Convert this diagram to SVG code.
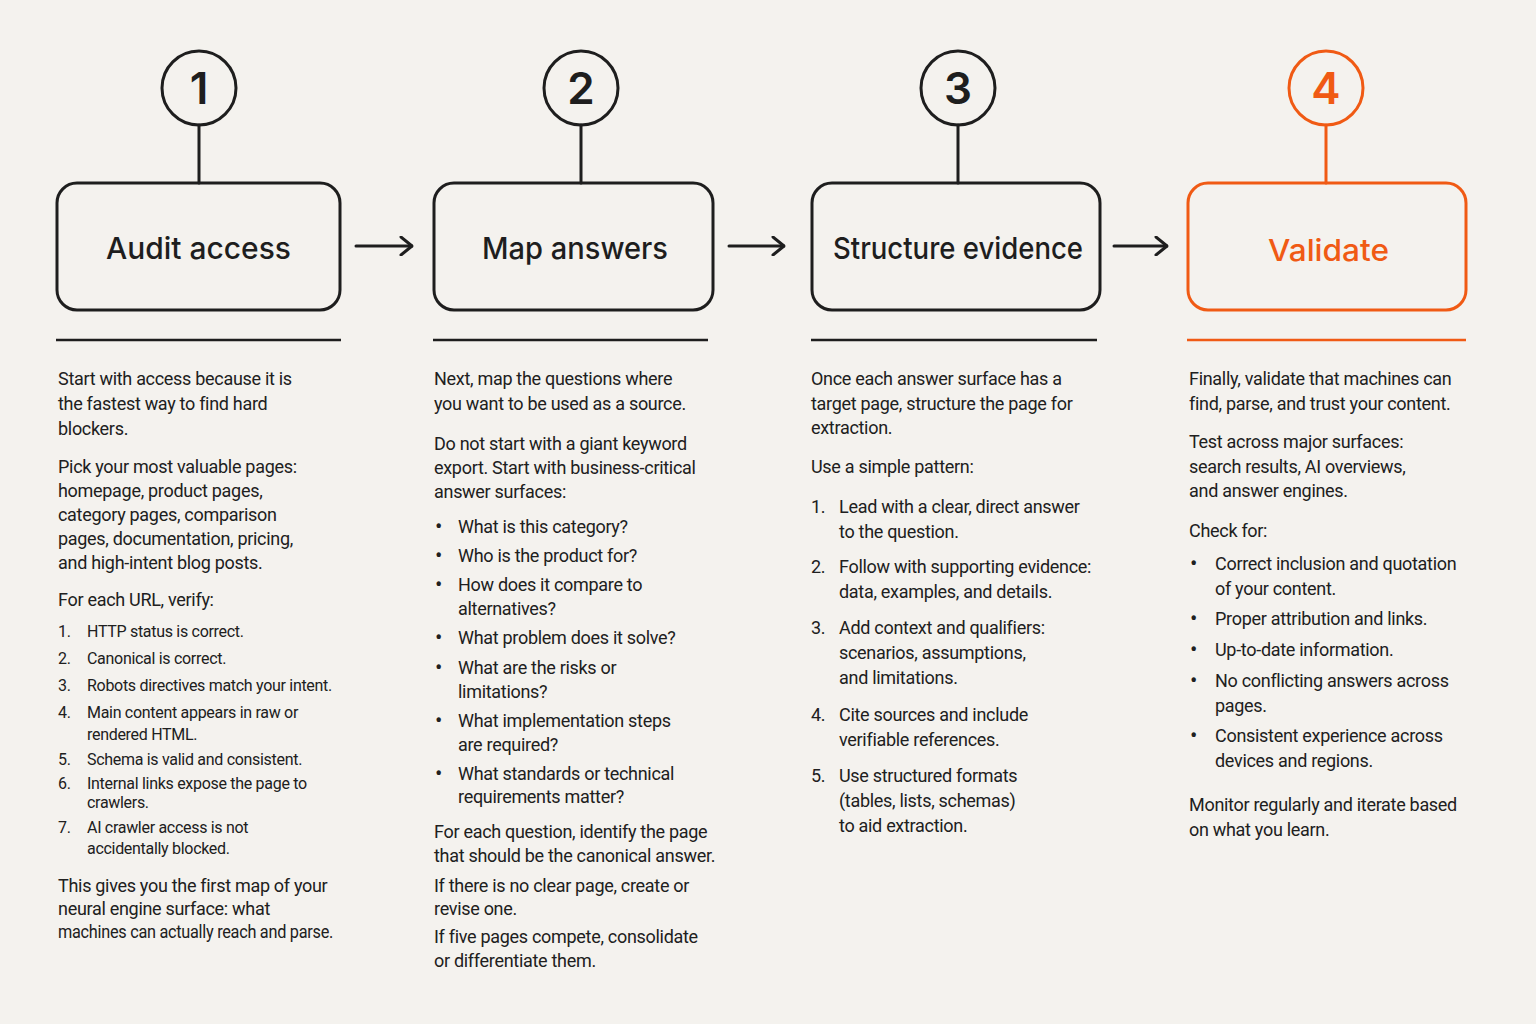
<svg xmlns="http://www.w3.org/2000/svg" width="1536" height="1024" viewBox="0 0 1536 1024">
<defs>
<style>
.bg{fill:#f4f2ee}
.ln{fill:none;stroke:#1e1e1e;stroke-width:3;stroke-linecap:round;stroke-linejoin:round}
.or{fill:none;stroke:#f05a14;stroke-width:3;stroke-linecap:round;stroke-linejoin:round}
.num{font-family:Inter,"Liberation Sans",sans-serif;font-size:44px;font-weight:600;text-anchor:middle;fill:#1e1e1e}
.ttl{font-family:Inter,"Liberation Sans",sans-serif;font-size:30px;font-weight:500;text-anchor:middle;fill:#1e1e1e}
.o{fill:#f05a14}
.t{font-family:Roboto,"Liberation Sans",sans-serif;font-size:18px;fill:#202020;letter-spacing:-0.3px}
.s{font-family:Roboto,"Liberation Sans",sans-serif;font-size:16px;fill:#202020;letter-spacing:-0.3px}
.b{font-size:22px}
.rule{stroke:#1e1e1e;stroke-width:2.5}
</style>
<marker id="ah" viewBox="0 0 14 20" refX="13" refY="10" markerWidth="14" markerHeight="20" markerUnits="userSpaceOnUse" orient="auto">
<path d="M2 1 L13 10 L2 19" fill="none" stroke="#1e1e1e" stroke-width="3" stroke-linecap="round" stroke-linejoin="round"/>
</marker>
</defs>
<rect class="bg" x="0" y="0" width="1536" height="1024"/>

<g id="connectors">
<line class="ln" x1="199" y1="125" x2="199" y2="183"/>
<line class="ln" x1="581" y1="125" x2="581" y2="183"/>
<line class="ln" x1="958" y1="125" x2="958" y2="183"/>
<line class="or" x1="1326" y1="125" x2="1326" y2="183"/>
<line class="ln" x1="356" y1="246" x2="412" y2="246" marker-end="url(#ah)"/>
<line class="ln" x1="729" y1="246" x2="784" y2="246" marker-end="url(#ah)"/>
<line class="ln" x1="1114" y1="246" x2="1167" y2="246" marker-end="url(#ah)"/>
</g>

<g id="step1">
<circle class="ln" cx="199" cy="88" r="37"/>
<text class="num" x="199" y="104">1</text>
<rect class="ln" x="57" y="183" width="283" height="127" rx="20"/>
<text class="ttl" x="198.5" y="259" textLength="185" lengthAdjust="spacingAndGlyphs">Audit access</text>
<line class="rule" x1="56" y1="340" x2="341" y2="340"/>
<text class="t">
<tspan x="58" y="385">Start with access because it is</tspan>
<tspan x="58" y="410">the fastest way to find hard</tspan>
<tspan x="58" y="435">blockers.</tspan>
<tspan x="58" y="473">Pick your most valuable pages:</tspan>
<tspan x="58" y="497">homepage, product pages,</tspan>
<tspan x="58" y="521">category pages, comparison</tspan>
<tspan x="58" y="545">pages, documentation, pricing,</tspan>
<tspan x="58" y="569">and high-intent blog posts.</tspan>
<tspan x="58" y="606">For each URL, verify:</tspan>
</text>
<text class="s">
<tspan x="58" y="637">1.</tspan><tspan x="87" y="637">HTTP status is correct.</tspan>
<tspan x="58" y="664">2.</tspan><tspan x="87" y="664">Canonical is correct.</tspan>
<tspan x="58" y="691">3.</tspan><tspan x="87" y="691">Robots directives match your intent.</tspan>
<tspan x="58" y="718">4.</tspan><tspan x="87" y="718">Main content appears in raw or</tspan>
<tspan x="87" y="740">rendered HTML.</tspan>
<tspan x="58" y="765">5.</tspan><tspan x="87" y="765">Schema is valid and consistent.</tspan>
<tspan x="58" y="789">6.</tspan><tspan x="87" y="789">Internal links expose the page to</tspan>
<tspan x="87" y="808">crawlers.</tspan>
<tspan x="58" y="833">7.</tspan><tspan x="87" y="833">AI crawler access is not</tspan>
<tspan x="87" y="854">accidentally blocked.</tspan>
</text>
<text class="t">
<tspan x="58" y="892">This gives you the first map of your</tspan>
<tspan x="58" y="915">neural engine surface: what</tspan>
</text>
<text class="t" x="58" y="938" textLength="275" lengthAdjust="spacingAndGlyphs">machines can actually reach and parse.</text>
</g>

<g id="step2">
<circle class="ln" cx="581" cy="88" r="37"/>
<text class="num" x="581" y="104">2</text>
<rect class="ln" x="434" y="183" width="279" height="127" rx="20"/>
<text class="ttl" x="575" y="259" textLength="186" lengthAdjust="spacingAndGlyphs">Map answers</text>
<line class="rule" x1="433" y1="340" x2="708" y2="340"/>
<text class="t">
<tspan x="434" y="385">Next, map the questions where</tspan>
<tspan x="434" y="410">you want to be used as a source.</tspan>
<tspan x="434" y="450">Do not start with a giant keyword</tspan>
<tspan x="434" y="474">export. Start with business-critical</tspan>
<tspan x="434" y="498">answer surfaces:</tspan>
<tspan class="b" x="435" y="534">•</tspan><tspan x="458" y="533">What is this category?</tspan>
<tspan class="b" x="435" y="563">•</tspan><tspan x="458" y="562">Who is the product for?</tspan>
<tspan class="b" x="435" y="592">•</tspan><tspan x="458" y="591">How does it compare to</tspan>
<tspan x="458" y="615">alternatives?</tspan>
<tspan class="b" x="435" y="645">•</tspan><tspan x="458" y="644">What problem does it solve?</tspan>
<tspan class="b" x="435" y="675">•</tspan><tspan x="458" y="674">What are the risks or</tspan>
<tspan x="458" y="698">limitations?</tspan>
<tspan class="b" x="435" y="728">•</tspan><tspan x="458" y="727">What implementation steps</tspan>
<tspan x="458" y="751">are required?</tspan>
<tspan class="b" x="435" y="781">•</tspan><tspan x="458" y="780">What standards or technical</tspan>
<tspan x="458" y="803">requirements matter?</tspan>
<tspan x="434" y="838">For each question, identify the page</tspan>
<tspan x="434" y="862">that should be the canonical answer.</tspan>
<tspan x="434" y="892">If there is no clear page, create or</tspan>
<tspan x="434" y="915">revise one.</tspan>
<tspan x="434" y="943">If five pages compete, consolidate</tspan>
<tspan x="434" y="967">or differentiate them.</tspan>
</text>
</g>

<g id="step3">
<circle class="ln" cx="958" cy="88" r="37"/>
<text class="num" x="958" y="104">3</text>
<rect class="ln" x="812" y="183" width="288" height="127" rx="20"/>
<text class="ttl" x="958" y="259" textLength="250" lengthAdjust="spacingAndGlyphs">Structure evidence</text>
<line class="rule" x1="811" y1="340" x2="1097" y2="340"/>
<text class="t">
<tspan x="811" y="385">Once each answer surface has a</tspan>
<tspan x="811" y="410">target page, structure the page for</tspan>
<tspan x="811" y="434">extraction.</tspan>
<tspan x="811" y="473">Use a simple pattern:</tspan>
<tspan x="811" y="513">1.</tspan><tspan x="839" y="513">Lead with a clear, direct answer</tspan>
<tspan x="839" y="538">to the question.</tspan>
<tspan x="811" y="573">2.</tspan><tspan x="839" y="573">Follow with supporting evidence:</tspan>
<tspan x="839" y="598">data, examples, and details.</tspan>
<tspan x="811" y="634">3.</tspan><tspan x="839" y="634">Add context and qualifiers:</tspan>
<tspan x="839" y="659">scenarios, assumptions,</tspan>
<tspan x="839" y="684">and limitations.</tspan>
<tspan x="811" y="721">4.</tspan><tspan x="839" y="721">Cite sources and include</tspan>
<tspan x="839" y="746">verifiable references.</tspan>
<tspan x="811" y="782">5.</tspan><tspan x="839" y="782">Use structured formats</tspan>
<tspan x="839" y="807">(tables, lists, schemas)</tspan>
<tspan x="839" y="832">to aid extraction.</tspan>
</text>
</g>

<g id="step4">
<circle class="or" cx="1326" cy="88" r="37"/>
<text class="num o" x="1326" y="104">4</text>
<rect class="or" x="1188" y="183" width="278" height="127" rx="20"/>
<text class="ttl o" x="1328.5" y="261" textLength="121" lengthAdjust="spacingAndGlyphs">Validate</text>
<line x1="1187" y1="340" x2="1466" y2="340" stroke="#f05a14" stroke-width="2.5"/>
<text class="t">
<tspan x="1189" y="385">Finally, validate that machines can</tspan>
<tspan x="1189" y="410">find, parse, and trust your content.</tspan>
<tspan x="1189" y="448">Test across major surfaces:</tspan>
<tspan x="1189" y="473">search results, AI overviews,</tspan>
<tspan x="1189" y="497">and answer engines.</tspan>
<tspan x="1189" y="537">Check for:</tspan>
<tspan class="b" x="1190" y="571">•</tspan><tspan x="1215" y="570">Correct inclusion and quotation</tspan>
<tspan x="1215" y="595">of your content.</tspan>
<tspan class="b" x="1190" y="626">•</tspan><tspan x="1215" y="625">Proper attribution and links.</tspan>
<tspan class="b" x="1190" y="657">•</tspan><tspan x="1215" y="656">Up-to-date information.</tspan>
<tspan class="b" x="1190" y="688">•</tspan><tspan x="1215" y="687">No conflicting answers across</tspan>
<tspan x="1215" y="712">pages.</tspan>
<tspan class="b" x="1190" y="743">•</tspan><tspan x="1215" y="742">Consistent experience across</tspan>
<tspan x="1215" y="767">devices and regions.</tspan>
<tspan x="1189" y="811">Monitor regularly and iterate based</tspan>
<tspan x="1189" y="836">on what you learn.</tspan>
</text>
</g>
</svg>
